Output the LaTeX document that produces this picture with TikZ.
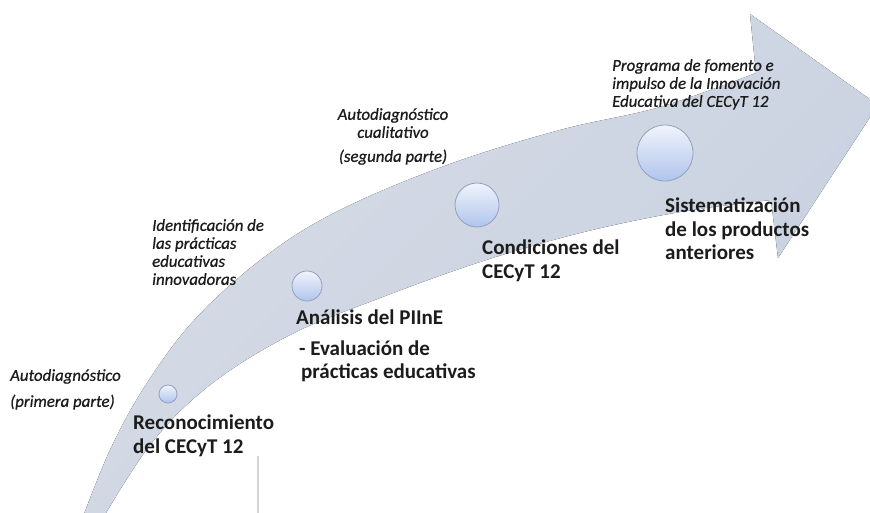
\documentclass[tikz,border=0pt]{standalone}
\usepackage{fontspec}
\setmainfont{Carlito}
\definecolor{band}{RGB}{200,209,225}
\definecolor{bandlight}{RGB}{214,219,229}
\definecolor{circtop}{RGB}{240,244,252}
\definecolor{circbot}{RGB}{176,196,236}
\definecolor{circline}{RGB}{145,160,192}
\definecolor{ink}{RGB}{28,28,28}
\definecolor{faint}{RGB}{212,212,212}
\tikzset{
  dot/.style={circle, draw=circline, line width=0.8pt, top color=circtop, bottom color=circbot, inner sep=0pt},
  big/.style={font=\fontsize{21}{23.5}\selectfont\bfseries, text=ink, align=left, anchor=north west, inner sep=0pt},
  note/.style={font=\fontsize{16.8}{18}\selectfont\itshape\addfontfeature{FakeBold=0.7}, text=ink, align=left, anchor=north west, inner sep=0pt},
}
\begin{document}
\begin{tikzpicture}[x=1pt,y=-1pt]
\clip (0,0) rectangle (870,512);
\fill[white] (0,0) rectangle (870,512);
% big curved arrow
\fill[left color=bandlight, right color=band, shading angle=45]
  plot[smooth, tension=0.6] coordinates {(78,530) (110,450) (147,383) (197,317) (267,255) (340,210) (447,165) (560,130) (660,107) (756,73)}
  -- (750,14) -- (878,105) -- (778,258) -- (771,200)
  -- plot[smooth, tension=0.6] coordinates {(771,200) (680,212) (580,233) (480,262) (380,298) (290,335) (210,385) (150,445) (96,530)}
  -- cycle;
% faint vertical line
\draw[faint, line width=1.2pt] (258,456) coordinate (vl1) -- (258,515) coordinate (vl2);
% circles
\node[dot, minimum size=18pt] (c1) at (168,394) {};
\node[dot, minimum size=30pt] (c2) at (307,286) {};
\node[dot, minimum size=44pt] (c3) at (477,205) {};
\node[dot, minimum size=56pt] (c4) at (665,153) {};
% labels
\node[note] (n1) at (10,369) {Autodiagnóstico\\[8pt](primera parte)};
\node[big] (b1) at (133,415) {Reconocimiento\\del CECyT 12};
\node[note] (n2) at (152,219) {Identificación de\\las prácticas\\educativas\\innovadoras};
\node[big] (b2) at (296,310) {Análisis del PIInE\\[7pt]\hspace{3pt}- Evaluación de\\\hspace{5pt}prácticas educativas};
\node[note, align=center, anchor=north] (n3) at (393,108) {Autodiagnóstico\\cualitativo\\[6pt](segunda parte)};
\node[big] (b3) at (482,240) {Condiciones del\\CECyT 12};
\node[note] (n4) at (612,59) {Programa de fomento e\\impulso de la Innovación\\Educativa del CECyT 12};
\node[big] (b4) at (665,198) {Sistematización\\de los productos\\anteriores};
\end{tikzpicture}
\end{document}
